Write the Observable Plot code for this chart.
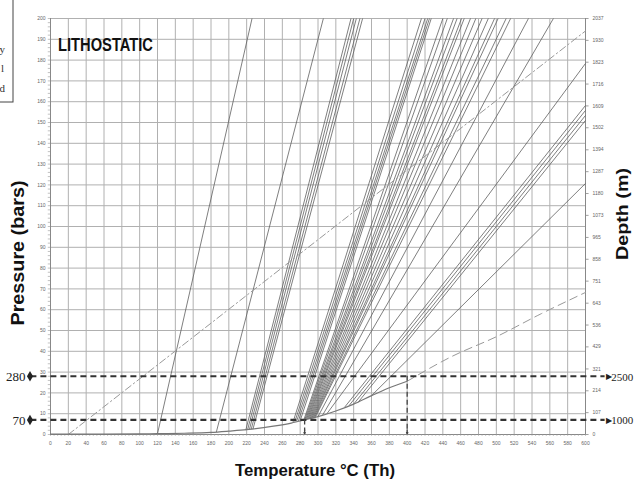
<!DOCTYPE html>
<html><head><meta charset="utf-8">
<script src="https://cdn.jsdelivr.net/npm/d3@7"></script>
<script src="https://cdn.jsdelivr.net/npm/@observablehq/plot@0.6"></script>
<style>
body{margin:0;background:#fff;overflow:hidden}
svg{display:block;overflow:hidden}
</style>
</head><body><div id="chart"></div>
<script>
// Axis ticks
const tempTicks = d3.range(0, 601, 20);
const pressureTicks = d3.range(0, 201, 10);
const depthLabels = [0,107,214,321,429,536,643,751,858,965,1073,1180,1287,1394,1502,1609,1716,1823,1930,2037];

// Liquid-vapour (boiling) curve, solid part then dashed continuation
const boilT = [0, 60, 100, 120, 150, 180, 200, 220, 250, 270, 285, 300, 320, 340, 360, 380, 400];
const boilP = [0.2, 0.2, 0.3, 0.4, 0.6, 1.0, 1.6, 2.3, 4.0, 5.5, 7.0, 8.6, 11.3, 14.6, 18.7, 22.5, 25.6];
const extT = [400, 450, 500, 550, 600];
const extP = [25.6, 37.5, 47.0, 58.0, 68.3];

// Lithostatic gradient (dash-dot)
const lithoT = [20, 600];
const lithoP = [0, 194];

// Isochores: start on the boiling curve, end at the top or right edge
const isoT0 = [120, 186, 219, 221, 223, 225, 227, 272, 274, 276, 278, 280,
  284, 285, 286, 287, 288, 289, 290, 291, 292, 293, 294, 295, 296, 297, 300, 305,
  310, 330, 335, 340, 345, 360];
const isoP0 = [0.4, 1.2, 2.1, 2.2, 2.3, 2.4, 2.5, 6.0, 6.1, 6.3, 6.5, 6.6,
  6.9, 7.0, 7.1, 7.2, 7.3, 7.4, 7.5, 7.6, 7.7, 7.8, 7.9, 8.0, 8.1, 8.2, 8.6, 9.2,
  10.0, 13.2, 14.0, 14.6, 15.5, 18.7];
const isoT1 = [226, 306, 337, 340, 343, 347, 350, 416, 420, 423, 425, 427,
  440, 445, 452, 456, 461, 464, 471, 477, 484, 491, 498, 502, 511, 516, 536, 564,
  600, 600, 600, 600, 600, 600];
const isoP1 = [200, 200, 200, 200, 200, 200, 200, 200, 200, 200, 200, 200,
  200, 200, 200, 200, 200, 200, 200, 200, 200, 200, 200, 200, 200, 200, 200, 200,
  178.4, 158.2, 155.8, 153.4, 151.0, 120.7];

// Marked levels: pressure (bars) on the left, depth (m) on the right
const levelBars = [70, 280];
const levelDepth = [1000, 2500];
const dropT = [285, 400];

const isochores = isoT0.map((t, i) => ({x1: t, y1: isoP0[i], x2: isoT1[i], y2: isoP1[i]}));
const boil = boilT.map((t, i) => ({t, p: boilP[i]}));
const ext = extT.map((t, i) => ({t, p: extP[i]}));
const litho = lithoT.map((t, i) => ({t, p: lithoP[i]}));
const levels = levelBars.map((b, i) => ({y: b / 10, bars: String(b), depth: String(levelDepth[i]), t: dropT[i]}));
const depthTicks = depthLabels.map(d => ({y: d * 200 / 2037, label: String(d)}));

const tickFont = {fontSize: 5, fill: "#666"};
const serif = "Liberation Serif, Times New Roman, serif";

const chart = Plot.plot({
  width: 634,
  height: 488,
  marginLeft: 50,
  marginRight: 49,
  marginTop: 18,
  marginBottom: 54,
  style: {fontFamily: "Liberation Sans, Arial, sans-serif", background: "#fff", overflow: "hidden"},
  x: {type: "linear", domain: [0, 600], axis: null},
  y: {type: "linear", domain: [0, 200], axis: null},
  marks: [
    Plot.gridX(tempTicks, {stroke: "#b0b0b0", strokeOpacity: 1, strokeWidth: 1}),
    Plot.gridY(pressureTicks, {stroke: "#b0b0b0", strokeOpacity: 1, strokeWidth: 1}),
    // axis lines
    Plot.ruleX([0, 600], {stroke: "#888", strokeWidth: 1}),
    Plot.ruleY([0], {stroke: "#888", strokeWidth: 1}),
    // minor ticks
    Plot.ruleY(d3.range(0, 201, 2), {x1: -2.5, x2: 0, stroke: "#999", strokeWidth: 0.6}),
    Plot.ruleX(d3.range(0, 601, 4), {y1: -0.9, y2: 0, stroke: "#999", strokeWidth: 0.6}),
    // left tick labels
    Plot.text(pressureTicks, {x: 0, y: d => d, text: d => String(d), textAnchor: "end", dx: -5, ...tickFont}),
    // bottom tick labels
    Plot.text(tempTicks, {x: d => d, y: 0, text: d => String(d), dy: 9, ...tickFont}),
    // right depth axis
    Plot.ruleY(depthTicks, {y: "y", x1: 600, x2: 604, stroke: "#888", strokeWidth: 0.8}),
    Plot.text(depthTicks, {x: 600, y: "y", text: "label", textAnchor: "start", dx: 7, ...tickFont}),
    // isochores
    Plot.link(isochores, {x1: "x1", y1: "y1", x2: "x2", y2: "y2", stroke: "#5e5e5e", strokeWidth: 0.8}),
    // lithostatic gradient
    Plot.line(litho, {x: "t", y: "p", stroke: "#999", strokeWidth: 1, strokeDasharray: "7,3,1.5,3"}),
    // boiling curve
    Plot.line(boil, {x: "t", y: "p", stroke: "#777", strokeWidth: 1.2, curve: "monotone-x"}),
    Plot.line(ext, {x: "t", y: "p", stroke: "#999", strokeWidth: 1, strokeDasharray: "8,5", curve: "monotone-x"}),
    // level lines
    Plot.ruleY(levels, {y: "y", x1: -22, x2: 622, stroke: "#333", strokeWidth: 2.2, strokeDasharray: "6,4"}),
    Plot.text(levels, {x: 626, y: "y", text: () => "\u25B6", fontSize: 8, fill: "#222"}),
    Plot.dot(levels, {x: -23, y: "y", symbol: "diamond", r: 3.2, fill: "#222"}),
    Plot.text(levels, {x: -28, y: "y", text: "bars", textAnchor: "end", dy: 1, fontSize: 13, fontFamily: serif, fill: "#222"}),
    Plot.text(levels, {x: 653.5, y: "y", text: "depth", textAnchor: "end", dy: 1, fontSize: 11, fontFamily: serif, fill: "#222"}),
    // drop lines to the temperature axis
    Plot.ruleX(levels, {x: "t", y1: "y", y2: 1.6, stroke: "#444", strokeWidth: 1.3, strokeDasharray: "5,3"}),
    Plot.arrow(levels, {x1: "t", x2: "t", y1: 2.2, y2: 0.4, stroke: "#444", strokeWidth: 1.3, headLength: 5})
  ]
});

const svg = d3.select(chart);
const cond = "Liberation Sans Narrow, Arial Narrow, Liberation Sans, sans-serif";
function title(x, y, rot, size, len, txt) {
  svg.append("text")
    .attr("transform", `translate(${x},${y})` + (rot ? ` rotate(${rot})` : ""))
    .attr("text-anchor", rot ? "middle" : "start")
    .attr("font-family", cond).attr("font-weight", "bold").attr("font-size", size).attr("fill", "#111")
    .attr("textLength", len).attr("lengthAdjust", "spacingAndGlyphs")
    .text(txt);
}
title(58, 51, 0, 18, 95, "LITHOSTATIC");
title(315, 476, 0.0001, 17, 160, "Temperature \u00B0C (Th)");
title(24, 253, -90, 18, 145, "Pressure (bars)");
title(628, 214, -90, 17, 92, "Depth (m)");
// clipped legend box in the corner
svg.append("rect").attr("x", -1).attr("y", -1).attr("width", 14).attr("height", 103)
  .attr("fill", "#fff").attr("stroke", "#444").attr("stroke-width", 1);
const lg = svg.append("g").attr("font-family", serif).attr("font-size", 11).attr("fill", "#333").attr("text-anchor", "end");
lg.append("text").attr("x", 5).attr("y", 53).text("y");
lg.append("text").attr("x", 4).attr("y", 72).text("l");
lg.append("text").attr("x", 5).attr("y", 92).text("d");

document.getElementById("chart").appendChild(chart);
</script>
</body></html>
